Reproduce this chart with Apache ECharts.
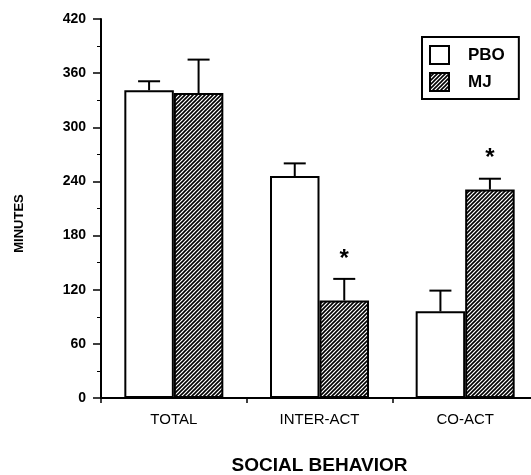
<!DOCTYPE html>
<html>
<head>
<meta charset="utf-8">
<script src="https://cdn.jsdelivr.net/npm/echarts@6/dist/echarts.min.js"></script>
<style>
  html, body { margin: 0; padding: 0; background: #fff; }
  #main { width: 531px; height: 475px; }
</style>
</head>
<body>
<div id="main"></div>
<script>
var categories = ['TOTAL', 'INTER-ACT', 'CO-ACT'];
var seriesNames = ['PBO', 'MJ'];
var pboMean = [341, 246, 96];
var pboErr = [10, 14, 23];
var mjMean = [338, 108, 231];
var mjErr = [37, 24, 12];
var mjStar = [false, true, true]; // significant difference
var yTicks = [0, 60, 120, 180, 240, 300, 360, 420];

var FONT = 'Liberation Sans, Arial, sans-serif';
var BAR_W = 49.5;

// diagonal hatch for MJ
function hatch() {
    var c = document.createElement('canvas');
    c.width = 4; c.height = 4;
    var ctx = c.getContext('2d');
    ctx.fillStyle = '#fff';
    ctx.fillRect(0, 0, 4, 4);
    ctx.strokeStyle = '#000';
    ctx.lineWidth = 1.6;
    ctx.beginPath();
    ctx.moveTo(-1, 5); ctx.lineTo(5, -1);
    ctx.moveTo(-1, 1); ctx.lineTo(1, -1);
    ctx.moveTo(3, 5); ctx.lineTo(5, 3);
    ctx.stroke();
    return c;
}
var hatchFill = { image: hatch(), repeat: 'repeat' };

// error bar data: [index, mean, err, side, star]
function errData(mean, err, side, star) {
    var out = [];
    for (var i = 0; i < mean.length; i++) {
        out.push([i, mean[i], err[i], side, star ? (star[i] ? 1 : 0) : 0]);
    }
    return out;
}

function renderErr(params, api) {
    var idx = api.value(0), m = api.value(1), e = api.value(2);
    var side = api.value(3), star = api.value(4);
    var base = api.coord([idx, m]);
    var top = api.coord([idx, m + e]);
    var x = base[0] + side * BAR_W / 2;
    var st = { stroke: '#000', lineWidth: 2 };
    var kids = [
        { type: 'line', shape: { x1: x, y1: base[1], x2: x, y2: top[1] }, style: st },
        { type: 'line', shape: { x1: x - 11, y1: top[1], x2: x + 11, y2: top[1] }, style: st }
    ];
    if (star) {
        kids.push({
            type: 'text',
            style: {
                text: '*', x: x, y: top[1] - 20,
                fill: '#000', font: 'bold 24px ' + FONT,
                align: 'center', verticalAlign: 'middle'
            }
        });
    }
    return { type: 'group', children: kids };
}

var myChart = echarts.init(document.getElementById('main'));
var option = {
    backgroundColor: '#fff',
    animation: false,
    textStyle: { fontFamily: FONT },
    grid: { left: 101, right: -7, top: 19, bottom: 77, outerBoundsMode: 'none' },
    legend: {
        orient: 'vertical',
        left: 422, top: 37,
        padding: [8, 14, 7, 7],
        itemGap: 7,
        itemWidth: 19, itemHeight: 18,
        borderColor: '#000', borderWidth: 2,
        icon: 'rect',
        selectedMode: false,
        textStyle: { fontFamily: FONT, fontSize: 17, fontWeight: 'bold', color: '#000', padding: [0, 0, 0, 14] },
        data: seriesNames
    },
    xAxis: {
        type: 'category',
        data: categories,
        name: 'SOCIAL BEHAVIOR',
        nameLocation: 'middle',
        nameGap: 58,
        nameTextStyle: { fontSize: 19, fontWeight: 'bold', color: '#000', fontFamily: FONT },
        axisLine: { lineStyle: { color: '#000', width: 2 } },
        axisTick: { show: true, length: 5, lineStyle: { color: '#000', width: 1.5 } },
        axisLabel: { color: '#000', fontSize: 15, margin: 14, fontFamily: FONT }
    },
    yAxis: {
        type: 'value',
        min: yTicks[0], max: yTicks[yTicks.length - 1], interval: 60,
        name: 'MINUTES',
        nameLocation: 'middle',
        nameRotate: 90,
        nameGap: 75,
        nameTextStyle: { fontSize: 13, fontWeight: 'bold', color: '#000', fontFamily: FONT, padding: [0, 30, 0, 0] },
        axisLine: { show: true, lineStyle: { color: '#000', width: 2 } },
        axisTick: { show: true, length: 8, lineStyle: { color: '#000', width: 1.5 } },
        minorTick: { show: true, splitNumber: 2, length: 4, lineStyle: { color: '#000', width: 1 } },
        splitLine: { show: false },
        axisLabel: { color: '#000', fontSize: 14, fontWeight: 'bold', margin: 15, fontFamily: FONT }
    },
    series: [
        {
            name: 'PBO', type: 'bar', data: pboMean,
            barWidth: BAR_W, barGap: '0%',
            itemStyle: { color: '#fff', borderColor: '#000', borderWidth: 2 }
        },
        {
            name: 'MJ', type: 'bar', data: mjMean,
            barWidth: BAR_W, barGap: '0%',
            itemStyle: { color: hatchFill, borderColor: '#000', borderWidth: 2 }
        },
        {
            type: 'custom', renderItem: renderErr, z: 5,
            data: errData(pboMean, pboErr, -1, null)
        },
        {
            type: 'custom', renderItem: renderErr, z: 5,
            data: errData(mjMean, mjErr, 1, mjStar)
        }
    ]
};
myChart.setOption(option);
</script>
</body>
</html>
